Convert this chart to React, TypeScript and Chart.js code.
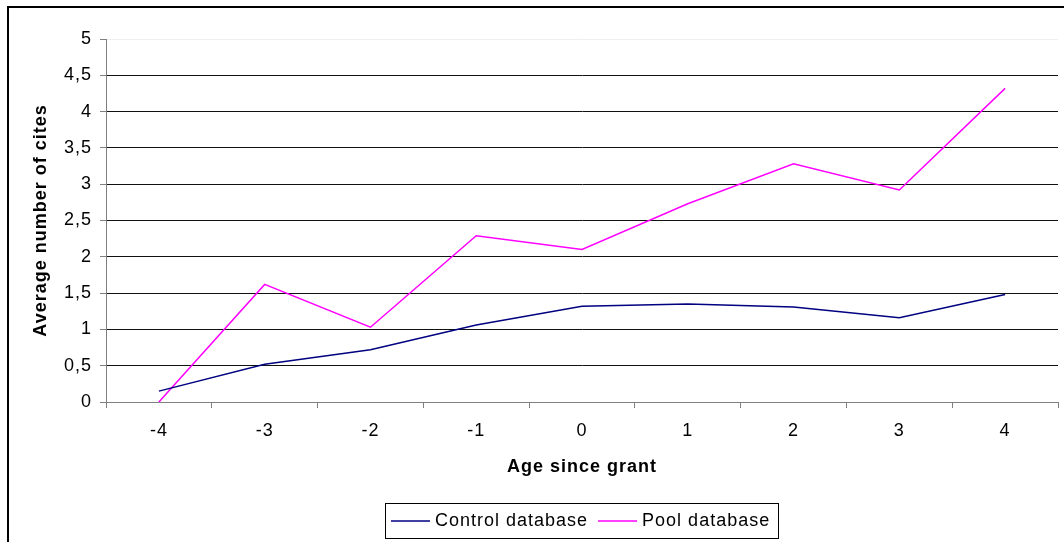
import React, { useEffect, useRef } from "react";
import { Chart, registerables } from "chart.js";

Chart.register(...registerables);

const categories = ["-4", "-3", "-2", "-1", "0", "1", "2", "3", "4"];
const controlValues = [0.15, 0.52, 0.72, 1.06, 1.32, 1.35, 1.31, 1.16, 1.48];
const poolValues = [0, 1.62, 1.03, 2.29, 2.1, 2.73, 3.28, 2.92, 4.32];
const seriesNames = ["Control database", "Pool database"];
const seriesColors = ["#000080", "#FF00FF"];
const yTitle = "Average number of cites";
const xTitle = "Age since grant";

const FONT = "'Liberation Sans', Arial, sans-serif";

const spacingPlugin = {
  id: "spacing",
  beforeLayout(chart: any) {
    chart.ctx.letterSpacing = "1px";
  },
  beforeDraw(chart: any) {
    chart.ctx.letterSpacing = "1px";
    const ctx = chart.ctx;
    ctx.save();
    ctx.fillStyle = "#ffffff";
    ctx.fillRect(0, 0, chart.width, chart.height);
    ctx.restore();
  },
};

const frameLegendPlugin = {
  id: "frameLegend",
  afterDraw(chart: any) {
    const ctx = chart.ctx;
    ctx.save();
    ctx.letterSpacing = "1px";
    // outer frame
    ctx.strokeStyle = "#000";
    ctx.lineWidth = 2;
    ctx.strokeRect(8, 7, chart.width + 20, chart.height + 20);

    // legend
    ctx.font = "18px " + FONT;
    const ds = chart.data.datasets;
    const lineLen = 39;
    const padL = 6;
    const gapLT = 5;
    const gapItem = 10;
    const padR = 8;
    const widths = ds.map((d: any) => ctx.measureText(d.label).width);
    let total = padL + padR;
    widths.forEach((w: number, i: number) => {
      total += lineLen + gapLT + w + (i < widths.length - 1 ? gapItem : 0);
    });
    const ca = chart.chartArea;
    const cx = (ca.left + ca.right) / 2;
    const boxLeft = Math.round(cx - total / 2);
    const boxTop = 503;
    const boxH = 35;
    ctx.lineWidth = 1;
    ctx.strokeStyle = "#000";
    ctx.strokeRect(boxLeft + 0.5, boxTop + 0.5, Math.round(total), boxH);
    const cy = boxTop + boxH / 2 + 0.5;
    let x = boxLeft + padL;
    ds.forEach((d: any, i: number) => {
      ctx.strokeStyle = d.borderColor;
      ctx.lineWidth = 1.5;
      ctx.beginPath();
      ctx.moveTo(x, cy);
      ctx.lineTo(x + lineLen, cy);
      ctx.stroke();
      x += lineLen + gapLT;
      ctx.fillStyle = "#000";
      ctx.textBaseline = "middle";
      ctx.textAlign = "left";
      ctx.fillText(d.label, x, cy);
      x += widths[i] + gapItem;
    });
    ctx.restore();
  },
};

export default function App() {
  const ref = useRef<HTMLCanvasElement | null>(null);

  useEffect(() => {
    document.body.style.margin = "0";
    const canvas = ref.current;
    if (!canvas) return;
    const chart = new Chart(canvas, {
      type: "line",
      data: {
        labels: categories,
        datasets: [
          {
            label: seriesNames[0],
            data: controlValues,
            borderColor: seriesColors[0],
            backgroundColor: seriesColors[0],
            borderWidth: 1.5,
            pointRadius: 0,
            tension: 0,
          },
          {
            label: seriesNames[1],
            data: poolValues,
            borderColor: seriesColors[1],
            backgroundColor: seriesColors[1],
            borderWidth: 1.5,
            pointRadius: 0,
            tension: 0,
          },
        ],
      },
      options: {
        animation: false,
        responsive: false,
        maintainAspectRatio: false,
        layout: { padding: { left: 0, top: 39, right: 6, bottom: 0 } },
        plugins: {
          legend: { display: false },
          tooltip: { enabled: false },
        },
        scales: {
          x: {
            type: "category",
            offset: true,
            afterFit(scale: any) {
              scale.height = 140;
            },
            grid: {
              offset: true,
              drawOnChartArea: false,
              drawTicks: true,
              tickLength: 6,
              color: "#808080",
            },
            border: { color: "#808080", width: 1 },
            ticks: {
              color: "#000",
              font: { family: FONT, size: 18 },
              padding: 12,
              maxRotation: 0,
            },
            title: {
              display: true,
              text: xTitle,
              color: "#000",
              font: { family: FONT, size: 18, weight: "bold" },
              padding: { top: 0, bottom: 64 },
            },
          },
          y: {
            min: 0,
            max: 5,
            afterFit(scale: any) {
              scale.width = 106;
            },
            grid: {
              color: (c: any) =>
                c.tick && c.tick.value === 5
                  ? "#eeeeee"
                  : c.tick && c.tick.value === 0
                  ? "#808080"
                  : "#111111",
              tickColor: "#808080",
              lineWidth: 1,
              drawTicks: true,
              tickLength: 6,
            },
            border: { color: "#808080", width: 1 },
            ticks: {
              stepSize: 0.5,
              color: "#000",
              font: { family: FONT, size: 18 },
              padding: 8,
              callback: (v: any) => String(v).replace(".", ","),
            },
            title: {
              display: true,
              text: yTitle,
              color: "#000",
              font: { family: FONT, size: 18, weight: "bold" },
              padding: { top: 30, bottom: 0 },
            },
          },
        },
      },
      plugins: [spacingPlugin, frameLegendPlugin],
    } as any);
    return () => chart.destroy();
  }, []);

  return (
    <div style={{ width: 1064, height: 542 }}>
      <canvas ref={ref} width={1064} height={542} style={{ display: "block" }} />
    </div>
  );
}
